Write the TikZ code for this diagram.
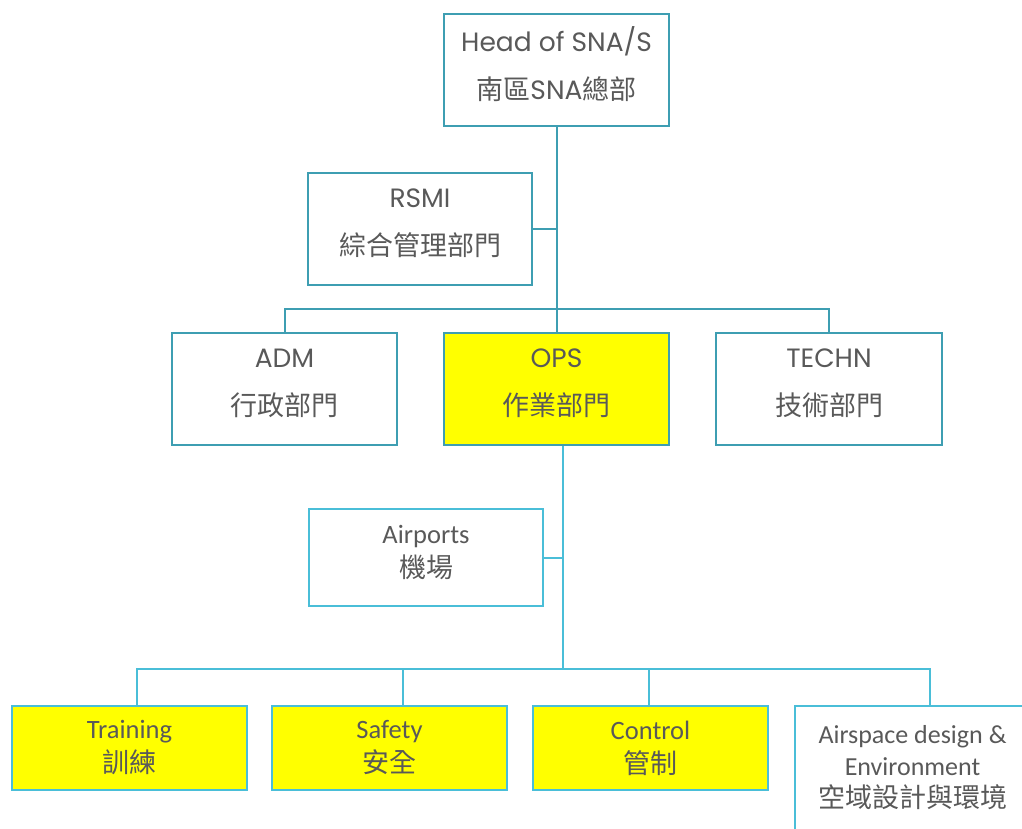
\documentclass[tikz,border=0pt]{standalone}
\usepackage{fontspec}
\setmainfont{Poppins}
\newfontfamily\calfont{Carlito}
\newfontfamily\cjk{Noto Sans CJK TC}
\usetikzlibrary{positioning}
\definecolor{tealline}{RGB}{62,158,178}
\definecolor{cyanline}{RGB}{74,190,216}
\definecolor{boxtext}{RGB}{89,89,89}
\definecolor{opsyellow}{RGB}{255,255,0}
\tikzset{upper box/.style={rectangle,draw=tealline,line width=2pt,minimum width=225pt,minimum height=112pt,inner sep=0pt,text depth=13pt,text=boxtext,align=center,font=\fontsize{26.5}{48}\selectfont},
lower box/.style={rectangle,draw=cyanline,line width=2.5pt,minimum width=235pt,minimum height=84pt,inner sep=0pt,text=boxtext,align=center,font=\calfont\fontsize{26.5}{34}\selectfont},
upper line/.style={draw=tealline,line width=2pt},
lower line/.style={draw=cyanline,line width=2pt},
}
\newcommand{\zh}[1]{{\cjk\fontsize{27}{48}\selectfont #1}}

\begin{document}
\begin{tikzpicture}[x=1pt,y=1pt]
	\clip (0,0) rectangle (1022,-828);
	% upper levels
	\node[upper box] (head) at (556.5,-69.5){Head of SNA/S\\\zh{南區}SNA\zh{總部}};
	\node[upper box, minimum width=224pt] (rsmi) at (420,-229){RSMI\\\zh{綜合管理部門}};
	\node[upper box] (adm) at (284.5,-389){ADM\\\zh{行政部門}};
	\node[upper box,fill=opsyellow] (ops) at (556.5,-389){OPS\\\zh{作業部門}};
	\node[upper box,minimum width=226pt] (techn) at (829,-389){TECHN\\\zh{技術部門}};
	
	% lower levels
	\node[lower box,minimum width=234pt,minimum height=97pt,text depth=12pt] (airports) at (426,-557.5){Airports\\{\cjk\fontsize{27}{34}\selectfont 機場}};
	\node[lower box,fill=opsyellow] (training) at (129.5,-748){Training\\{\cjk\fontsize{27}{34}\selectfont 訓練}};
	\node[lower box,fill=opsyellow] (safety) at (389.5,-748){Safety\\{\cjk\fontsize{27}{34}\selectfont 安全}};
	\node[lower box,fill=opsyellow] (control) at (650.5,-748){Control\\{\cjk\fontsize{27}{34}\selectfont 管制}};
	\node[lower box,minimum height=124pt,font=\calfont\fontsize{26}{32}\selectfont] (airspace) at (912.5,-768){Airspace design \&\\Environment\\{\cjk\fontsize{27}{32}\selectfont 空域設計與環境}};
	
	\coordinate (bus1) at (556.5,-309);
	\coordinate (opsout) at ([xshift=6.5pt]ops.south);
	\coordinate (bus2) at (563,-669);
	
	\path[upper line]
	(head) -- (ops)
	(rsmi.east) -- (rsmi.east -| head.south)
	(bus1) -| (adm)
	(bus1) -| (techn);
	
	\path[lower line]
	(opsout) -- (bus2)
	(airports.east) -- (airports.east -| opsout)
	(bus2) -| ([xshift=7.5pt]training.north)
	(bus2) -| ([xshift=13.5pt]safety.north)
	(bus2) -| ([xshift=-1.5pt]control.north)
	(bus2) -| ([xshift=17.5pt]airspace.north);
\end{tikzpicture}
\end{document}
